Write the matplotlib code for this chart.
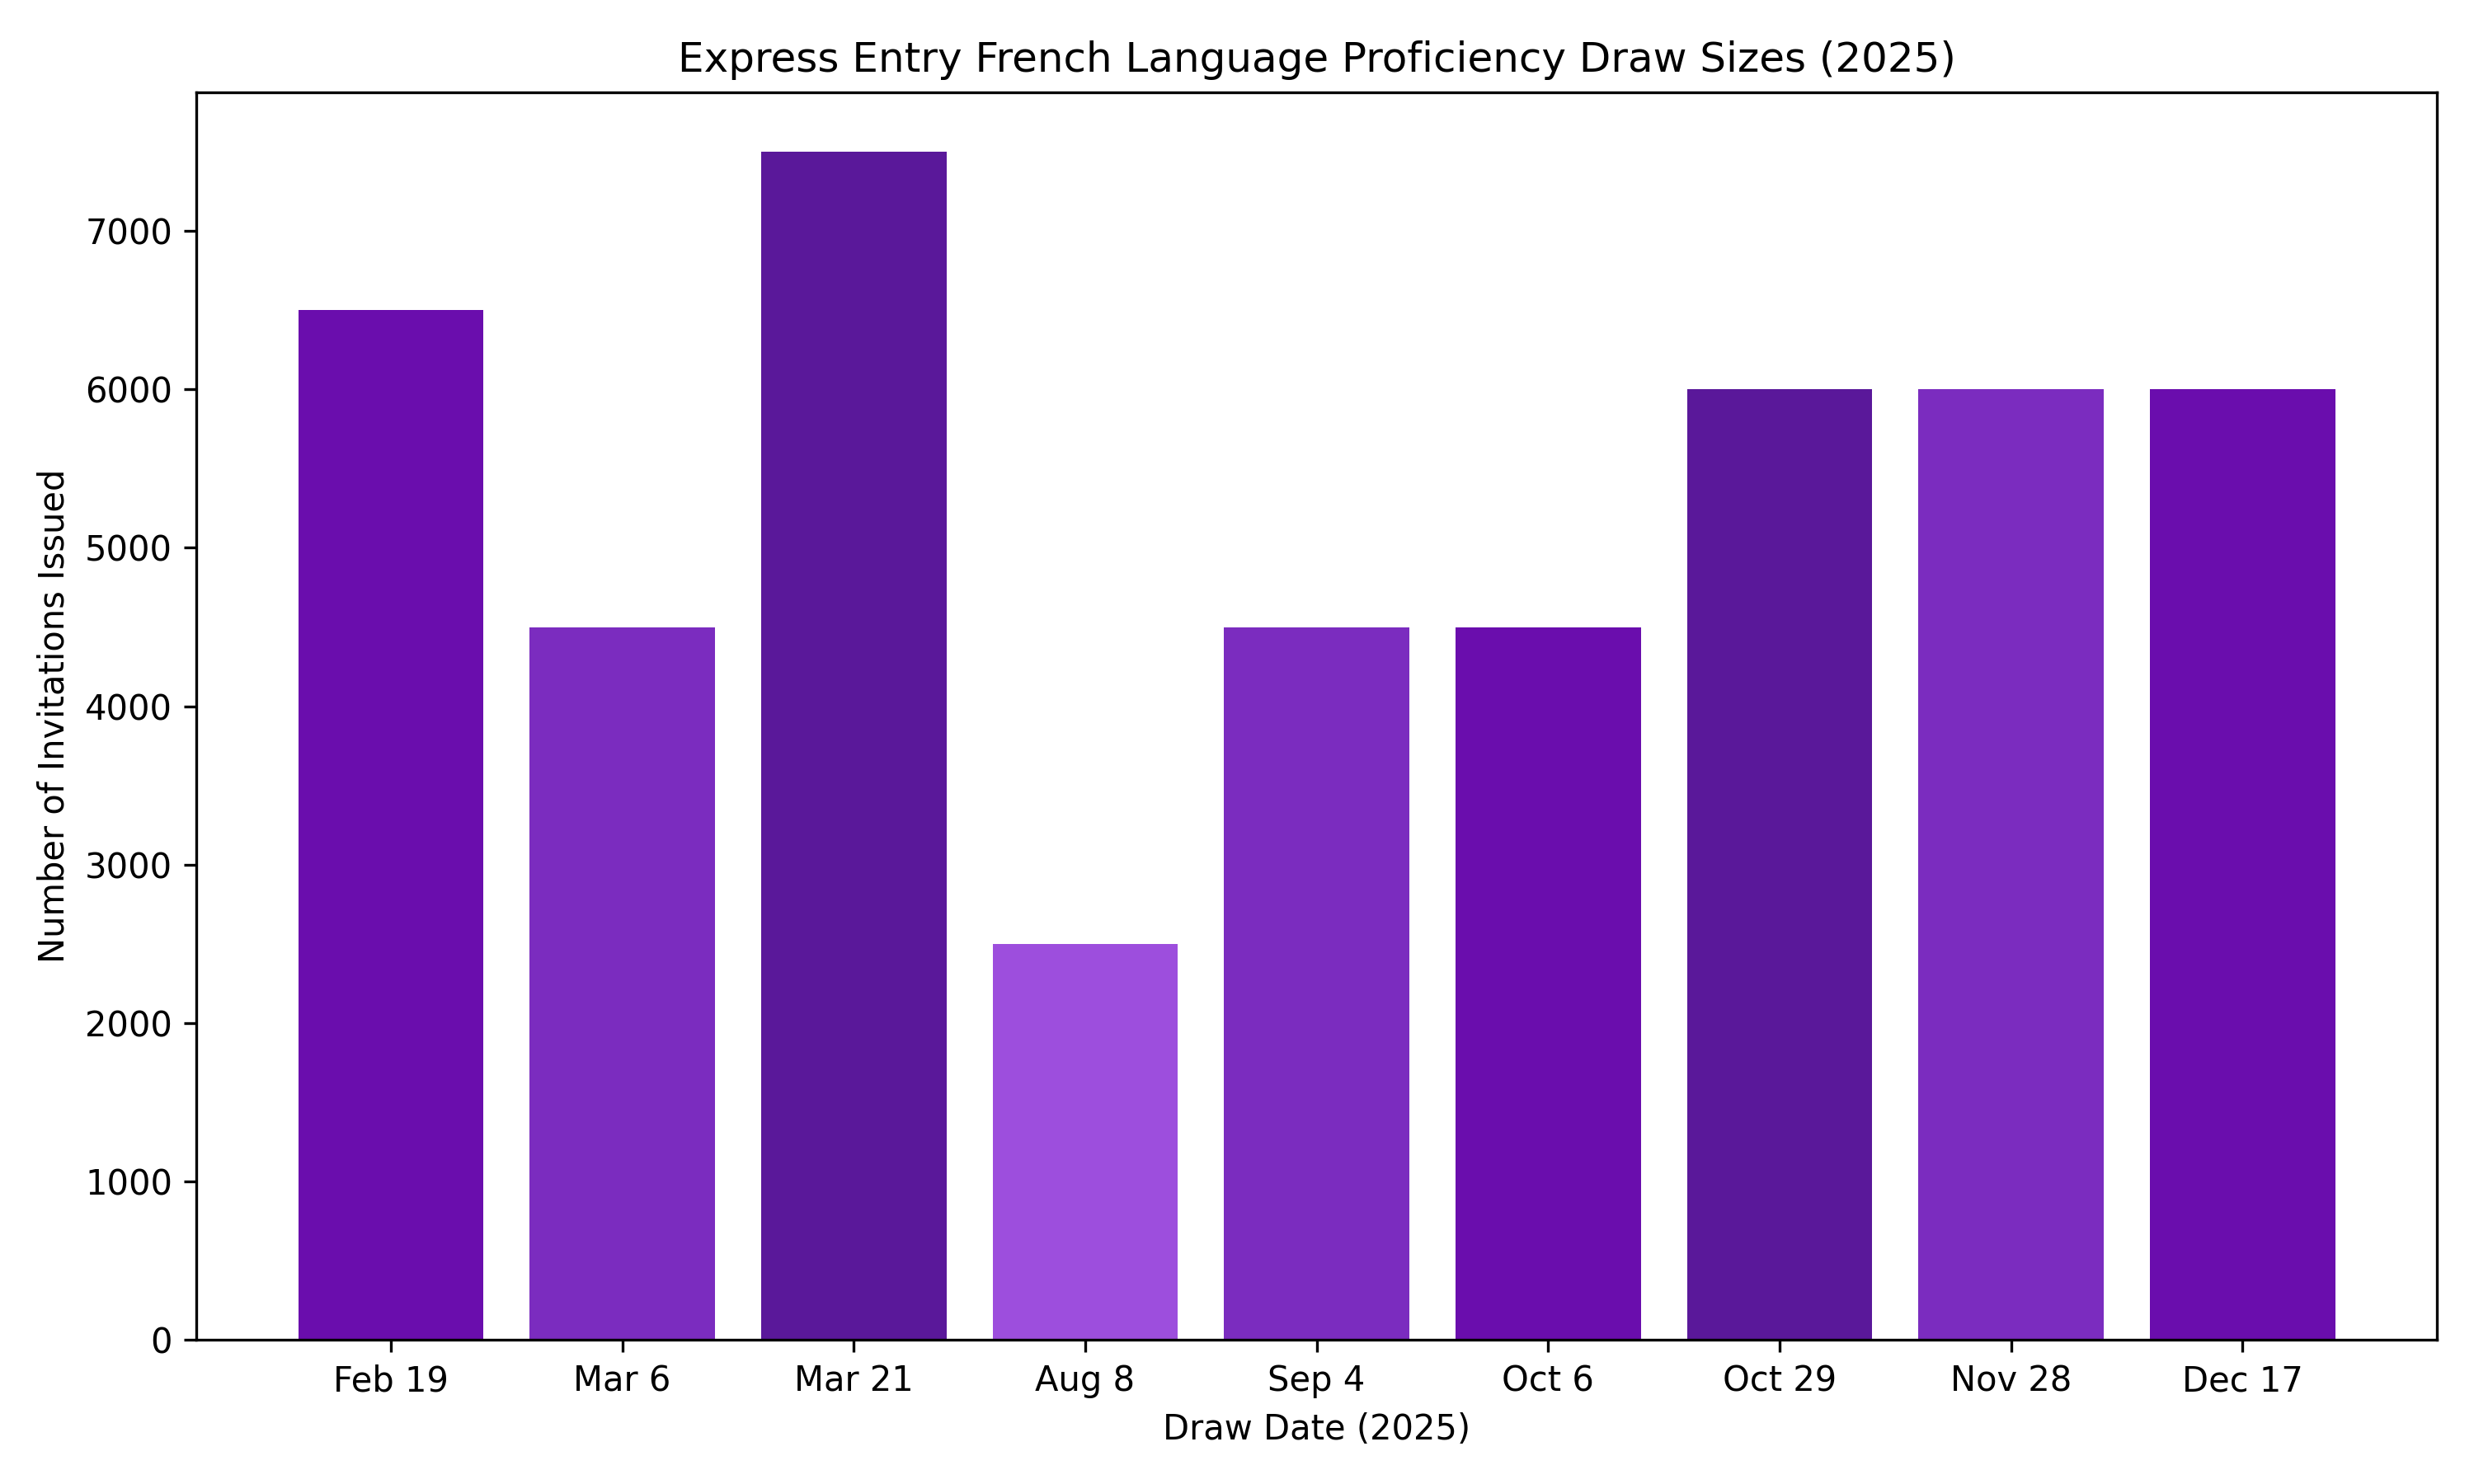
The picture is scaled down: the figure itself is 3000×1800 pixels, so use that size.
import matplotlib
matplotlib.use('Agg')
import matplotlib.pyplot as plt

# draw data
dates = ['Feb 19', 'Mar 6', 'Mar 21', 'Aug 8', 'Sep 4', 'Oct 6', 'Oct 29', 'Nov 28', 'Dec 17']
invitations = [6500, 4500, 7500, 2500, 4500, 4500, 6000, 6000, 6000]
colors = ['#6a0dad', '#7b2cbf', '#5a189a', '#9d4edd', '#7b2cbf',
          '#6a0dad', '#5a189a', '#7b2cbf', '#6a0dad']

fig, ax = plt.subplots(figsize=(10, 6))
ax.bar(dates, invitations, color=colors)

ax.set_title('Express Entry French Language Proficiency Draw Sizes (2025)')
ax.set_xlabel('Draw Date (2025)')
ax.set_ylabel('Number of Invitations Issued')

plt.tight_layout()
plt.savefig('out.png', dpi=300)
